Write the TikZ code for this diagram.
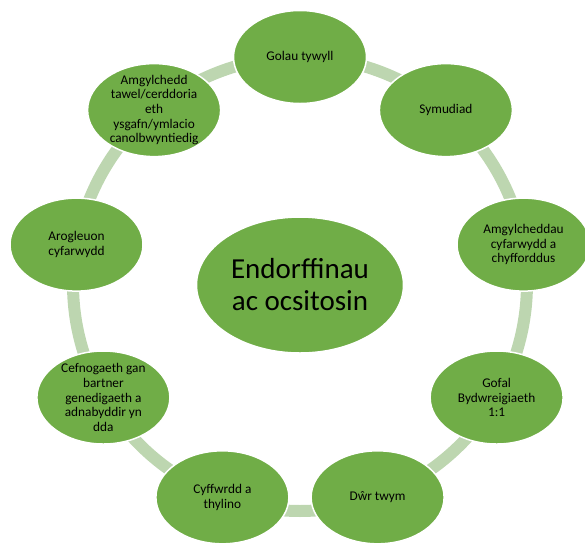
\documentclass[tikz,border=0pt]{standalone}
\usepackage{fontspec}
\setmainfont{Carlito}
\usetikzlibrary{shapes.geometric,backgrounds}
\definecolor{bubblegreen}{RGB}{112,173,71}
\definecolor{ringgreen}{RGB}{189,214,176}

\begin{document}
\begin{tikzpicture}[x=1pt,y=1pt,
  bubble/.style={ellipse,fill=bubblegreen,draw=white,line width=1.5pt,
    minimum width=133pt,minimum height=93pt,inner xsep=0pt,inner ysep=-25pt,
    align=center,font=\fontsize{13.3}{14.7}\selectfont},
  hub/.style={bubble,minimum width=207pt,minimum height=136pt,inner xsep=-10pt,
    font=\fontsize{29}{32}\selectfont},
  ring/.style={ringgreen,line width=12pt}]
  \useasboundingbox (0,0) rectangle (585,-542);

  % centre
  \node[hub] (hub) at (300,-285) {Endorffinau\\ac ocsitosin};

  % outer bubbles, on a circle r=227 round (300,-284)
  \node[bubble] (golau) at (300,-57) {Golau tywyll};
  \node[bubble] (symud) at (445.9,-110.1) {Symudiad};
  \node[bubble] (amgyl) at (523.5,-244.6) {Amgylcheddau\\cyfarwydd a\\chyfforddus};
  \node[bubble] (gofal) at (496.6,-397.5) {Gofal\\Bydwreigiaeth\\1:1};
  \node[bubble] (dwr) at (377.6,-497.3) {Dŵr twym};
  \node[bubble] (cyff) at (222.4,-497.3) {Cyffwrdd a\\thylino};
  \node[bubble] (cefn) at (103.4,-397.5) {Cefnogaeth gan\\bartner\\genedigaeth a\\adnabyddir yn\\dda};
  \node[bubble] (arog) at (76.5,-244.6) {Arogleuon\\cyfarwydd};
  \node[bubble] (tawel) at (154.1,-110.1) {Amgylchedd\\tawel/cerddoria\\eth\\ysgafn/ymlacio\\canolbwyntiedig};

  % ring behind the bubbles
  \begin{scope}[on background layer]
    \draw[ring] (golau.center) arc[start angle=90,end angle=50,radius=227pt];
    \draw[ring] (symud.center) arc[start angle=50,end angle=10,radius=227pt];
    \draw[ring] (amgyl.center) arc[start angle=10,end angle=-30,radius=227pt];
    \draw[ring] (gofal.center) arc[start angle=-30,end angle=-70,radius=227pt];
    \draw[ring] (dwr.center) arc[start angle=-70,end angle=-110,radius=227pt];
    \draw[ring] (cyff.center) arc[start angle=-110,end angle=-150,radius=227pt];
    \draw[ring] (cefn.center) arc[start angle=-150,end angle=-190,radius=227pt];
    \draw[ring] (arog.center) arc[start angle=170,end angle=130,radius=227pt];
    \draw[ring] (tawel.center) arc[start angle=130,end angle=90,radius=227pt];
  \end{scope}
\end{tikzpicture}
\end{document}
